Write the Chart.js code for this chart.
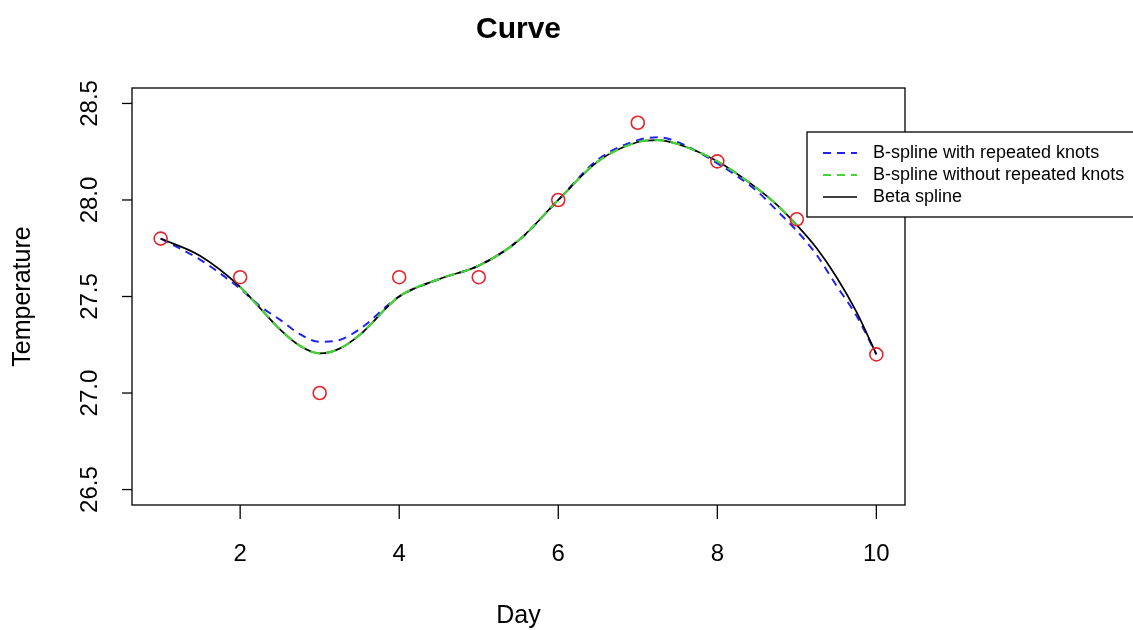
<!DOCTYPE html>
<html>
<head>
<meta charset="utf-8">
<script src="https://cdn.jsdelivr.net/npm/chart.js@4.4.0/dist/chart.umd.min.js"></script>
<style>
  html, body { margin: 0; padding: 0; background: #fff; }
  #wrap { width: 1133px; height: 630px; }
</style>
</head>
<body>
<div id="wrap"><canvas id="grafico" width="1133" height="630"></canvas></div>
<script>
// observed points
const days = [1, 2, 3, 4, 5, 6, 7, 8, 9, 10];
const temps = [27.8, 27.6, 27.0, 27.6, 27.6, 28.0, 28.4, 28.2, 27.9, 27.2];

// curves
const curveDays = [1, 1.5, 2, 2.25, 2.5, 2.75, 3, 3.25, 3.5, 4, 4.5, 5, 5.5, 6, 6.5, 7, 7.25, 7.5, 8, 8.5, 8.75, 9, 9.25, 9.5, 9.75, 10];
const bsplineRepeated = [27.8, 27.69, 27.54, 27.45, 27.38, 27.305, 27.265, 27.275, 27.33, 27.5, 27.59, 27.66, 27.79, 28.0, 28.21, 28.31, 28.325, 28.3, 28.19, 28.045, 27.945, 27.84, 27.715, 27.555, 27.4, 27.2];
const betaSpline = [27.8, 27.71, 27.55, 27.44, 27.33, 27.245, 27.205, 27.23, 27.3, 27.5, 27.59, 27.66, 27.79, 28.0, 28.2, 28.3, 28.31, 28.29, 28.2, 28.06, 27.975, 27.87, 27.75, 27.6, 27.42, 27.2];
const greenDays = [2, 2.25, 2.5, 2.75, 3, 3.25, 3.5, 4, 4.5, 5, 5.5, 6, 6.5, 7, 7.25, 7.5, 8, 8.5, 8.75, 9];
const bsplineNoRepeat = [27.55, 27.44, 27.33, 27.245, 27.205, 27.23, 27.3, 27.5, 27.59, 27.66, 27.79, 28.0, 28.2, 28.3, 28.31, 28.29, 28.2, 28.06, 27.975, 27.87];

const xTicks = [2, 4, 6, 8, 10];
const yTicks = [26.5, 27.0, 27.5, 28.0, 28.5];
const legendLabels = ['B-spline with repeated knots', 'B-spline without repeated knots', 'Beta spline'];

const azul = '#2222ee';
const verde = '#44d433';
const vermelho = '#e3242b';
const fonte = '"Liberation Sans", Arial, Helvetica, sans-serif';

const pares = (xs, ys) => xs.map((x, i) => ({ x: x, y: ys[i] }));

// box, axes, titles and legend in R style
const estiloR = {
  id: 'estiloR',
  afterDraw(chart) {
    const ctx = chart.ctx;
    const { left, right, top, bottom } = chart.chartArea;
    const sx = chart.scales.x, sy = chart.scales.y;
    ctx.save();
    ctx.strokeStyle = '#000';
    ctx.fillStyle = '#000';
    ctx.lineWidth = 1.3;
    ctx.strokeRect(left, top, right - left, bottom - top);

    ctx.font = '24px ' + fonte;
    ctx.textAlign = 'center';
    ctx.textBaseline = 'alphabetic';
    xTicks.forEach(v => {
      const px = sx.getPixelForValue(v);
      ctx.beginPath(); ctx.moveTo(px, bottom); ctx.lineTo(px, bottom + 14); ctx.stroke();
      ctx.fillText(String(v), px, bottom + 56);
    });
    yTicks.forEach(v => {
      const py = sy.getPixelForValue(v);
      ctx.beginPath(); ctx.moveTo(left, py); ctx.lineTo(left - 10, py); ctx.stroke();
      ctx.save();
      ctx.translate(97, py);
      ctx.rotate(-Math.PI / 2);
      ctx.fillText(v.toFixed(1), 0, 0);
      ctx.restore();
    });

    ctx.font = 'bold 30px ' + fonte;
    ctx.fillText('Curve', (left + right) / 2, 38);
    ctx.font = '25px ' + fonte;
    ctx.fillText('Day', (left + right) / 2, 623);
    ctx.save();
    ctx.translate(30, (top + bottom) / 2);
    ctx.rotate(-Math.PI / 2);
    ctx.fillText('Temperature', 0, 0);
    ctx.restore();

    // legend
    ctx.fillStyle = '#fff';
    ctx.fillRect(807, 132, 340, 85);
    ctx.strokeRect(807, 132, 340, 85);
    const linhas = [
      { cor: azul, dash: [8, 6], y: 153 },
      { cor: verde, dash: [8, 6], y: 175 },
      { cor: '#000', dash: [], y: 197 }
    ];
    ctx.font = '18px ' + fonte;
    ctx.textAlign = 'left';
    ctx.textBaseline = 'middle';
    linhas.forEach((l, i) => {
      ctx.strokeStyle = l.cor;
      ctx.lineWidth = l.dash.length ? 2 : 1.5;
      ctx.setLineDash(l.dash);
      ctx.beginPath(); ctx.moveTo(823, l.y); ctx.lineTo(857, l.y); ctx.stroke();
      ctx.setLineDash([]);
      ctx.fillStyle = '#000';
      ctx.fillText(legendLabels[i], 873, l.y);
    });
    ctx.restore();
  }
};

new Chart(document.getElementById('grafico'), {
  type: 'scatter',
  data: {
    datasets: [
      { label: 'obs', data: pares(days, temps), showLine: false, pointRadius: 6.5, pointHoverRadius: 6.5,
        pointBorderWidth: 1.6, borderColor: vermelho, backgroundColor: 'rgba(0,0,0,0)' },
      { label: legendLabels[1], data: pares(greenDays, bsplineNoRepeat), showLine: true, pointRadius: 0,
        borderColor: verde, borderWidth: 2.2, borderDash: [10, 6], cubicInterpolationMode: 'monotone' },
      { label: legendLabels[2], data: pares(curveDays, betaSpline), showLine: true, pointRadius: 0,
        borderColor: '#000', borderWidth: 1.7, cubicInterpolationMode: 'monotone' },
      { label: legendLabels[0], data: pares(curveDays, bsplineRepeated), showLine: true, pointRadius: 0,
        borderColor: azul, borderWidth: 2, borderDash: [8, 6], cubicInterpolationMode: 'monotone' }
    ]
  },
  options: {
    responsive: false,
    animation: false,
    devicePixelRatio: 1,
    layout: { padding: { left: 132, right: 228, top: 88, bottom: 125 } },
    plugins: { legend: { display: false }, tooltip: { enabled: false }, title: { display: false } },
    scales: {
      x: { type: 'linear', min: 0.64, max: 10.36, display: false },
      y: { type: 'linear', min: 26.42, max: 28.58, display: false }
    }
  },
  plugins: [estiloR]
});
</script>
</body>
</html>
